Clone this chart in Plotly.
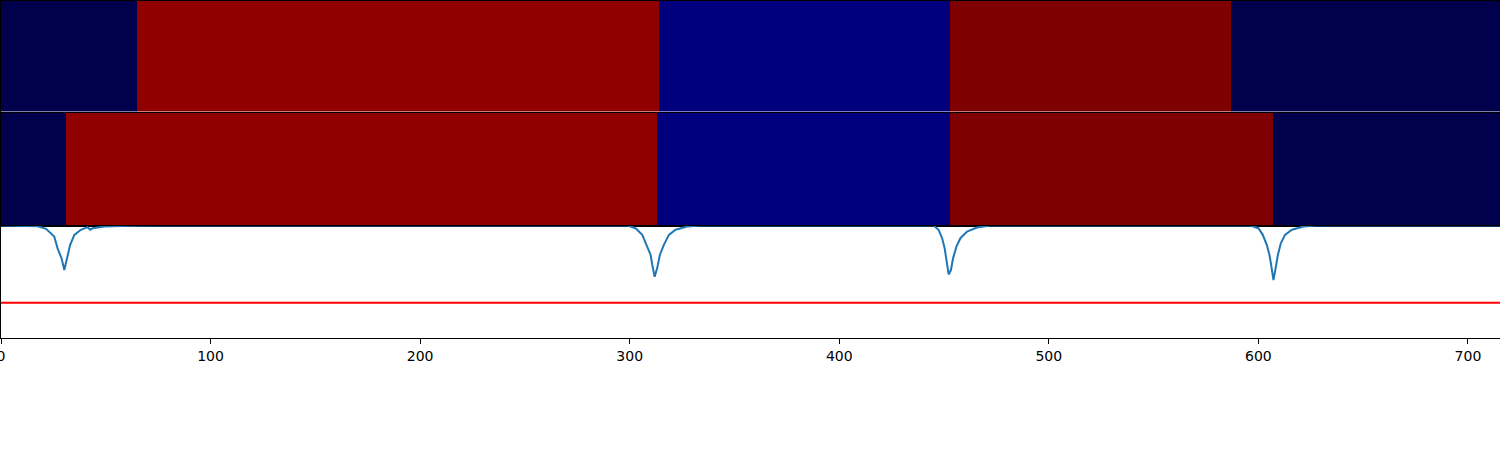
import plotly.graph_objects as go

# ---- data ----
band1_edges = [0, 65, 314, 453, 587, 715.3]
band1_values = [0.0, 0.965, 0.071, 1.0, 0.0]
band2_edges = [0, 31, 313, 453, 607, 715.3]
band2_values = [0.0, 0.965, 0.071, 1.0, 0.0]

signal_x = [0, 17.5, 21.5, 25.4, 27.0, 28.9, 30.2, 31.5, 33.0, 35.0, 38.1, 41.3, 42.6, 43.7, 49.3, 62.0, 74.7,
            298.9, 302.8, 306.0, 308.4, 310.0, 310.8, 311.9, 313.1, 314.4, 316.3, 318.7, 321.9, 327.4, 333.8,
            445.0, 447.4, 449.1, 450.3, 451.1, 452.2, 453.3, 454.3, 455.9, 457.8, 461.0, 465.7, 472.1,
            596.1, 600.0, 602.1, 604.0, 605.3, 606.1, 607.2, 608.5, 609.3, 610.7, 612.7, 616.0, 621.5, 627.9, 715.3]
signal_y = [0, -0.006, -0.030, -0.098, -0.203, -0.292, -0.396, -0.292, -0.172, -0.083, -0.038, -0.015, -0.038, -0.024, -0.009, -0.003, 0.0,
            0.0, -0.024, -0.083, -0.188, -0.262, -0.351, -0.455, -0.381, -0.262, -0.172, -0.083, -0.038, -0.009, 0.0,
            0.0, -0.038, -0.113, -0.202, -0.321, -0.435, -0.396, -0.292, -0.188, -0.113, -0.054, -0.018, 0.0,
            0.0, -0.024, -0.083, -0.172, -0.262, -0.351, -0.485, -0.351, -0.262, -0.158, -0.083, -0.038, -0.009, 0.0, 0.0]
threshold = -0.6875
x_ticks = [0, 100, 200, 300, 400, 500, 600, 700]

seismic = [
    [0.0, "rgb(0,0,76)"],
    [0.25, "rgb(0,0,255)"],
    [0.5, "rgb(255,255,255)"],
    [0.75, "rgb(255,0,0)"],
    [1.0, "rgb(127,0,0)"],
]

fig = go.Figure()
fig.add_trace(go.Heatmap(x=band1_edges, y=[0], z=[band1_values], colorscale=seismic, zmin=0, zmax=1,
                         showscale=False, xaxis="x", yaxis="y", hoverinfo="skip"))
fig.add_trace(go.Heatmap(x=band2_edges, y=[0], z=[band2_values], colorscale=seismic, zmin=0, zmax=1,
                         showscale=False, xaxis="x2", yaxis="y2", hoverinfo="skip"))
fig.add_trace(go.Scatter(x=signal_x, y=signal_y, mode="lines", line=dict(color="#1f77b4", width=2),
                         xaxis="x3", yaxis="y3", showlegend=False))
fig.add_trace(go.Scatter(x=[0, 715.3], y=[threshold, threshold], mode="lines", line=dict(color="#ff0000", width=2),
                         xaxis="x3", yaxis="y3", showlegend=False))

H = 337.0
xr = [0, 715.3]
common_x = dict(range=xr, showgrid=False, zeroline=False, showline=True, linecolor="black", linewidth=1,
                mirror=True, automargin=False)
common_y = dict(showgrid=False, zeroline=False, showline=True, linecolor="black", linewidth=1, mirror=False,
                showticklabels=False, ticks="", automargin=False)

fig.update_layout(
    width=1500, height=450,
    margin=dict(l=1, r=0, t=1, b=112, autoexpand=False),
    paper_bgcolor="white", plot_bgcolor="white",
    showlegend=False,
    font=dict(family="DejaVu Sans", size=14, color="black"),
    xaxis=dict(domain=[0, 1], anchor="y", showticklabels=False, ticks="", **common_x),
    yaxis=dict(domain=[(H - 110.5) / H, 1], range=[-0.5, 0.5], anchor="x", **common_y),
    xaxis2=dict(domain=[0, 1], anchor="y2", showticklabels=False, ticks="", **common_x),
    yaxis2=dict(domain=[(H - 224.5) / H, (H - 112) / H], range=[-0.5, 0.5], anchor="x2", **common_y),
    xaxis3=dict(domain=[0, 1], anchor="y3", tickvals=x_ticks, ticks="outside", ticklen=5, tickcolor="black",
                ticklabeloverflow="allow",
                tickfont=dict(size=14, family="DejaVu Sans", color="black"), **common_x),
    yaxis3=dict(domain=[0, (H - 224.5) / H], range=[-1, 0], anchor="x3", **common_y),
)

fig.write_html("out.html", config={"displayModeBar": False},
               post_script="document.body.style.margin='0';document.body.style.overflow='hidden';")
